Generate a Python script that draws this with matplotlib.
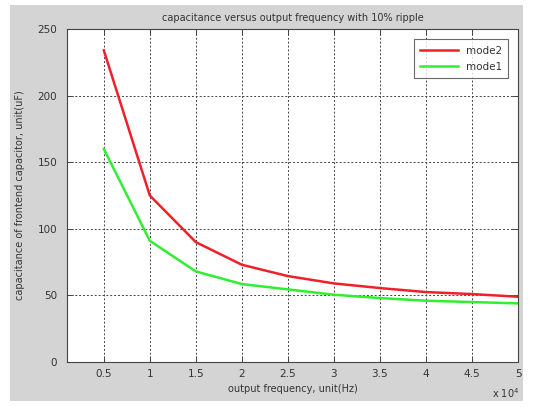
import matplotlib
matplotlib.use("Agg")
import matplotlib.pyplot as plt
from matplotlib.patches import Rectangle

freq_hz = [5000, 10000, 15000, 20000, 25000, 30000, 35000, 40000, 45000, 50000]
mode2 = [234, 125, 90, 73, 64.5, 59, 55.5, 52.5, 51, 49]
mode1 = [160, 91, 68, 58.5, 54.5, 50.5, 48, 46, 45, 44]
xtick_labels = ["0.5", "1", "1.5", "2", "2.5", "3", "3.5", "4", "4.5", "5"]
yticks = [0, 50, 100, 150, 200, 250]

fig = plt.figure(figsize=(5.33, 4.07), dpi=100)
fig.patch.set_facecolor("white")
fig.patches.append(Rectangle((0.019, 0.015), 0.962, 0.973, transform=fig.transFigure,
                             facecolor="#d4d4d4", edgecolor="none", zorder=-10))

ax = fig.add_axes([0.1257, 0.1106, 0.8462, 0.818])
ax.set_facecolor("white")

x = [f / 1e4 for f in freq_hz]
ax.plot(x, mode2, color="#f0202a", lw=1.8, label="mode2")
ax.plot(x, mode1, color="#30ee30", lw=1.8, label="mode1")

ax.set_xlim(0.1, 5.0)
ax.set_ylim(0, 250)
ax.set_xticks(x)
ax.set_xticklabels(xtick_labels)
ax.set_yticks(yticks)

txtc = "#333333"
ax.tick_params(direction="in", top=True, right=True, length=4, width=0.7,
               colors="#444444", labelcolor=txtc, labelsize=7.5)
ax.tick_params(axis="y", pad=7)
ax.tick_params(axis="x", pad=5)
for s in ax.spines.values():
    s.set_color("#444444")
    s.set_linewidth(0.8)

ax.grid(True, color="#444444", linestyle=(0, (2.0, 2.0)), linewidth=0.7)
ax.set_axisbelow(True)

ax.set_title("capacitance versus output frequency with 10% ripple", fontsize=7,
             color=txtc, pad=6)
ax.set_xlabel("output frequency, unit(Hz)", fontsize=7, color=txtc, labelpad=4)
ax.set_ylabel("capacitance of frontend capacitor, unit(uF)", fontsize=7, color=txtc,
              labelpad=9)
fig.text(0.948, 0.022, r"x 10$^{4}$", fontsize=7, color=txtc, ha="center")

leg = ax.legend(loc="upper right", fontsize=7.5, frameon=True, fancybox=False,
                handlelength=3.6, borderpad=0.6, labelspacing=0.6,
                bbox_to_anchor=(0.99, 0.985))
leg.get_frame().set_edgecolor("#444444")
leg.get_frame().set_linewidth(0.8)
for t in leg.get_texts():
    t.set_color(txtc)

fig.savefig("out.png", dpi=100)
